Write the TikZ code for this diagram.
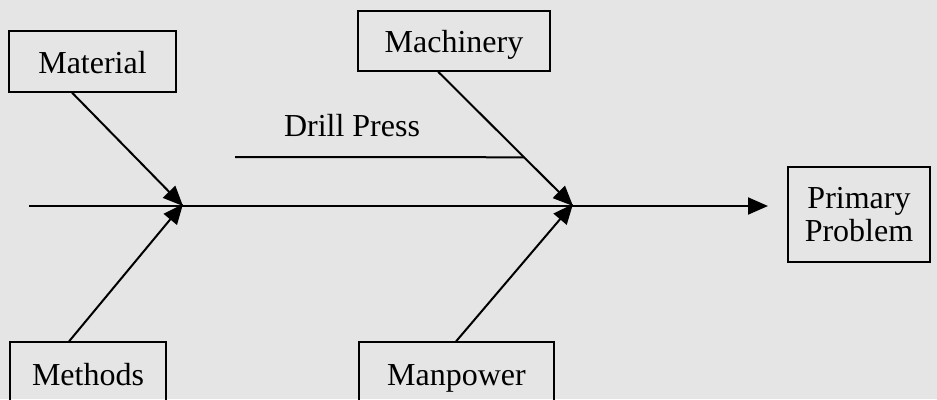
\documentclass[tikz,border=0pt]{standalone}
\usepackage{fontspec}
\setmainfont{Liberation Serif}
\usetikzlibrary{arrows.meta,calc}
\definecolor{bg}{RGB}{228,229,228}
\begin{document}
\begin{tikzpicture}[x=1pt,y=-1pt,
  causebox/.style={draw=black,line width=1.6pt,inner sep=0pt,align=center,
    font=\fontsize{32}{33}\selectfont},
  oneline/.style={text height=30pt,text depth=7pt},
  bone/.style={draw=black,line width=2pt,-{Triangle[length=20pt,width=17pt]}},
  plain/.style={draw=black,line width=2pt}]
\fill[bg] (0,0) rectangle (937,399);
\useasboundingbox (0,0) rectangle (937,399);
\clip (0,0) rectangle (937,399);
% boxes
\node[causebox,oneline,minimum width=167pt,minimum height=61pt] (mat) at (92.5,61.5) {Material};
\node[causebox,oneline,minimum width=192pt,minimum height=60pt] (mach) at (454,41) {Machinery};
\node[causebox,oneline,minimum width=156pt,minimum height=64pt] (meth) at (88,374) {Methods};
\node[causebox,oneline,minimum width=195pt,minimum height=64pt] (man) at (456.5,374) {Manpower};
\node[causebox,minimum width=142pt,minimum height=95pt] (pp) at (859,214.5) {Primary\\Problem};
\node[font=\fontsize{32}{33}\selectfont,inner sep=0pt,anchor=base] (dp) at (352,136) {Drill Press};
% junctions
\coordinate (s) at (29,206);
\coordinate (e) at (768,206);
\coordinate (j1) at (183,206);
\coordinate (j2) at (573,206);
\coordinate (d0) at (235,157);
\coordinate (mats) at ([xshift=64pt]mat.south west);
\coordinate (meths) at ([xshift=60pt]meth.north west);
\coordinate (machs) at ([xshift=81pt]mach.south west);
\coordinate (mans) at ([xshift=98pt]man.north west);
% spine
\draw[bone] (s) -- (e);
% bones
\draw[bone] (mats) -- (j1);
\draw[bone] (meths) -- ([yshift=2pt]j1);
\draw[bone] (machs) -- (j2);
\draw[bone] (mans) -- ([yshift=2pt]j2);
% sub-cause
\draw[plain] (d0) -- ($(machs)!0.637!(j2)$);
\end{tikzpicture}
\end{document}
